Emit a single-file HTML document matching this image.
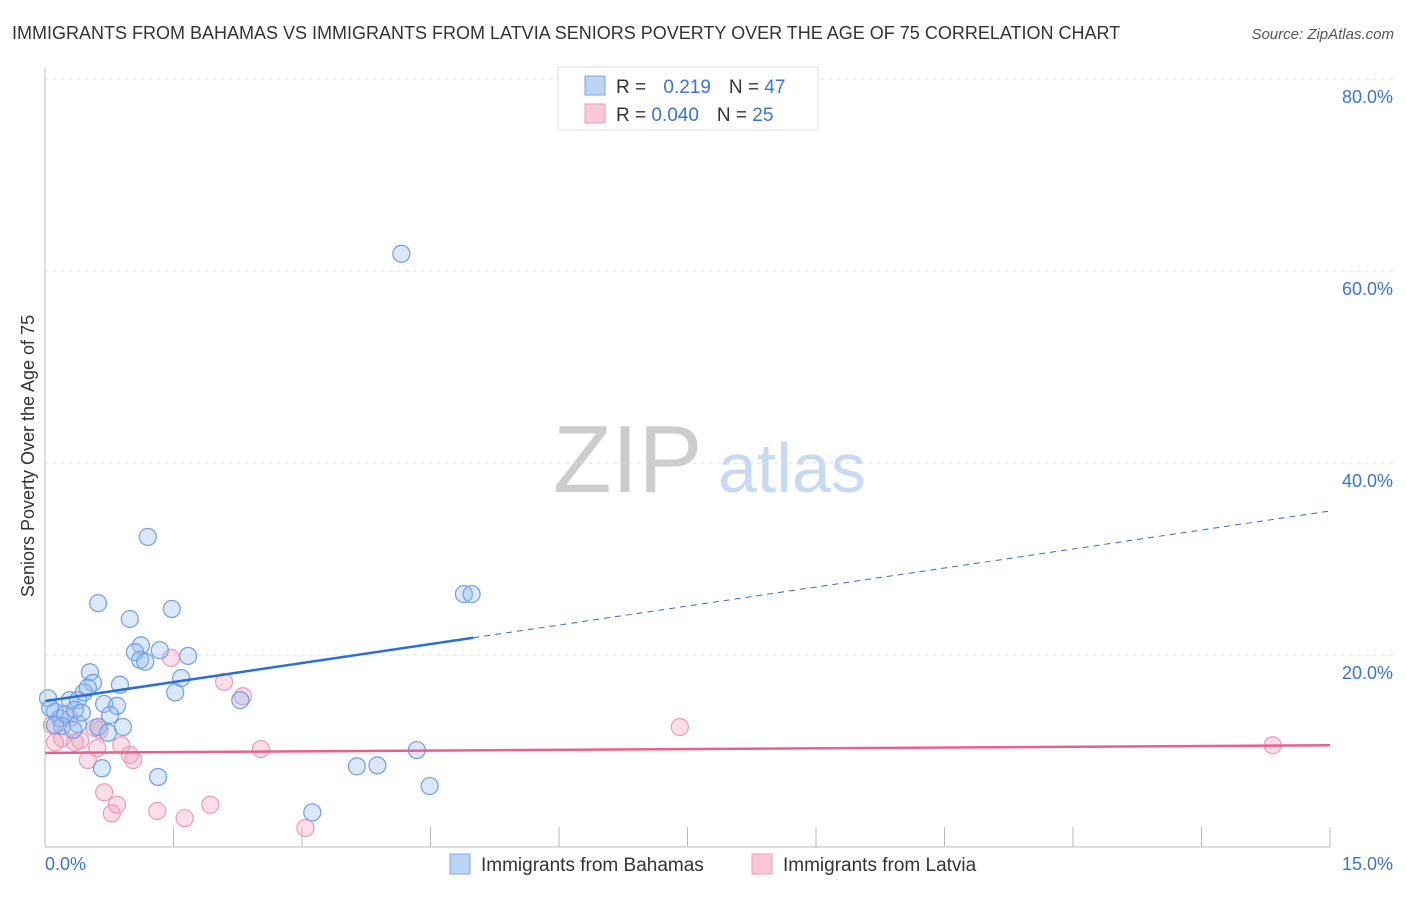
<!DOCTYPE html>
<html><head><meta charset="utf-8"><style>
body{margin:0;background:#fff;font-family:"Liberation Sans",sans-serif;}
svg text{font-family:"Liberation Sans",sans-serif;}
</style></head><body>
<svg width="1406" height="892" id="c">
<text x="12" y="39" font-size="18" fill="#333">IMMIGRANTS FROM BAHAMAS VS IMMIGRANTS FROM LATVIA SENIORS POVERTY OVER THE AGE OF 75 CORRELATION CHART</text>
<text x="1394" y="39" font-size="15" fill="#555" text-anchor="end" font-style="italic">Source: ZipAtlas.com</text>
<text x="34" y="456" font-size="18" fill="#333" text-anchor="middle" transform="rotate(-90 34 456)">Seniors Poverty Over the Age of 75</text>
<text x="553" y="492" font-size="96" fill="#ccc" font-family="Liberation Serif">ZIP</text>
<text x="718" y="492" font-size="70" fill="#c8daf2">atlas</text>
<g id="grid"></g><g id="pts"></g><g id="lines"></g>
<line x1="45" y1="68" x2="45" y2="847" stroke="#bbb"/>
<line x1="45" y1="847" x2="1330" y2="847" stroke="#bbb"/>
<text x="45" y="870" font-size="18" fill="#3a72d8">0.0%</text>
<text x="1393" y="870" font-size="18" fill="#3a72d8" text-anchor="end">15.0%</text>
<g>
<rect x="558" y="67" width="260" height="63" fill="#fff" stroke="#ddd"/>
<rect x="585" y="76" width="20" height="19" fill="#bcd4f5" stroke="#7aa6e6"/>
<rect x="585" y="104" width="20" height="19" fill="#f9c8d8" stroke="#ee9ab6"/>
<text x="616" y="93" font-size="19" fill="#333">R = <tspan fill="#3a72d8" dx="12">0.219</tspan><tspan fill="#333" dx="18">N = </tspan><tspan fill="#3a72d8">47</tspan></text>
<text x="616" y="121" font-size="19" fill="#333">R = <tspan fill="#3a72d8">0.040</tspan><tspan fill="#333" dx="18">N = </tspan><tspan fill="#3a72d8">25</tspan></text>
</g>
<g>
<rect x="450" y="854" width="20" height="20" fill="#bcd4f5" stroke="#7aa6e6"/>
<text x="481" y="871" font-size="19" fill="#333">Immigrants from Bahamas</text>
<rect x="752" y="854" width="20" height="20" fill="#f9c8d8" stroke="#ee9ab6"/>
<text x="783" y="871" font-size="19" fill="#333">Immigrants from Latvia</text>
</g>
</svg>
<script>
const yTicks=[20,40,60,80];
const xTicks=[1.5,3,4.5,6,7.5,9,10.5,12,13.5,15];
const bahamasX=[0.035,0.117,0.29,0.385,0.525,0.56,0.62,0.99,1.20,1.48,1.12,1.05,1.11,1.17,1.34,1.67,1.59,1.52,0.875,0.69,0.84,0.76,0.62,0.455,0.50,0.91,0.735,0.175,0.233,0.35,0.2,0.117,0.665,1.32,2.28,3.12,3.64,3.88,4.34,4.49,4.16,4.89,4.98,0.385,0.43,0.06,0.33];
const bahamasY=[15.5,14.1,15.3,15.3,18.2,17.1,25.4,23.75,32.3,24.8,21.0,20.3,19.5,19.3,20.5,19.9,17.6,16.1,16.9,14.9,14.7,13.75,12.5,16.1,16.6,12.5,11.9,13.4,13.85,14.3,12.6,12.7,8.2,7.3,15.3,3.6,8.4,8.5,10.1,6.35,61.8,26.35,26.35,12.8,14.0,14.5,12.2];
const latviaX=[0.08,0.117,0.2,0.29,0.35,0.41,0.5,0.58,0.61,0.64,0.69,0.78,0.84,0.89,0.99,1.03,1.31,1.47,1.63,1.93,2.09,2.31,2.52,3.04,7.41,14.33];
const latviaY=[12.7,10.9,11.3,13.4,10.9,11.1,9.06,12.4,10.3,12.2,5.7,3.5,4.4,10.6,9.6,9.06,3.75,19.7,3.0,4.4,17.2,15.7,10.2,1.98,12.5,10.6];
const trendB=[15.2,35.0], trendL=[9.8,10.6];
const X=v=>45+v/15*1285, Y=v=>847-v/20*192;
const NS="http://www.w3.org/2000/svg";
function mk(t,a,p){const e=document.createElementNS(NS,t);for(const k in a)e.setAttribute(k,a[k]);p.appendChild(e);return e;}
const g=document.getElementById('grid');
yTicks.forEach(t=>{
 const l=mk('line',{x1:45,x2:1393,y1:Y(t),y2:Y(t),stroke:'#ddd','stroke-dasharray':'4,4'},g);
 
 
 const tx=mk('text',{x:1393,y:Y(t)+24,'font-size':18,fill:'#3a72d8','text-anchor':'end'},g);
 tx.textContent=t.toFixed(1)+'%';
 
 
});
xTicks.forEach(t=>{
 const l=mk('line',{x1:X(t),x2:X(t),y1:827,y2:847,stroke:'#bbb'},g);
 
 
});
const p=document.getElementById('pts');
latviaX.forEach((x,i)=>{
 const c=mk('circle',{cx:X(x),cy:Y(latviaY[i]),r:8.5,fill:'rgba(244,160,190,0.35)',stroke:'#ee9ab6','stroke-width':1.2},p);
 
 
});
bahamasX.forEach((x,i)=>{
 const c=mk('circle',{cx:X(x),cy:Y(bahamasY[i]),r:8.5,fill:'rgba(150,190,240,0.35)',stroke:'#6f9ee3','stroke-width':1.2},p);
 
 
});
const L=document.getElementById('lines');
const bAt=x=>trendB[0]+(trendB[1]-trendB[0])*x/15;
const xEnd=5;
const b1=mk('line',{x1:X(0),y1:Y(bAt(0)),x2:X(xEnd),y2:Y(bAt(xEnd)),stroke:'#2a6fd6','stroke-width':2.5},L);


const b2=mk('line',{x1:X(xEnd),y1:Y(bAt(xEnd)),x2:X(15),y2:Y(bAt(15)),stroke:'#2a6fd6','stroke-width':1,'stroke-dasharray':'6,5'},L);


const l1=mk('line',{x1:X(0),y1:Y(trendL[0]),x2:X(15),y2:Y(trendL[1]),stroke:'#e8608f','stroke-width':2.5},L);


</script>
</body></html>
